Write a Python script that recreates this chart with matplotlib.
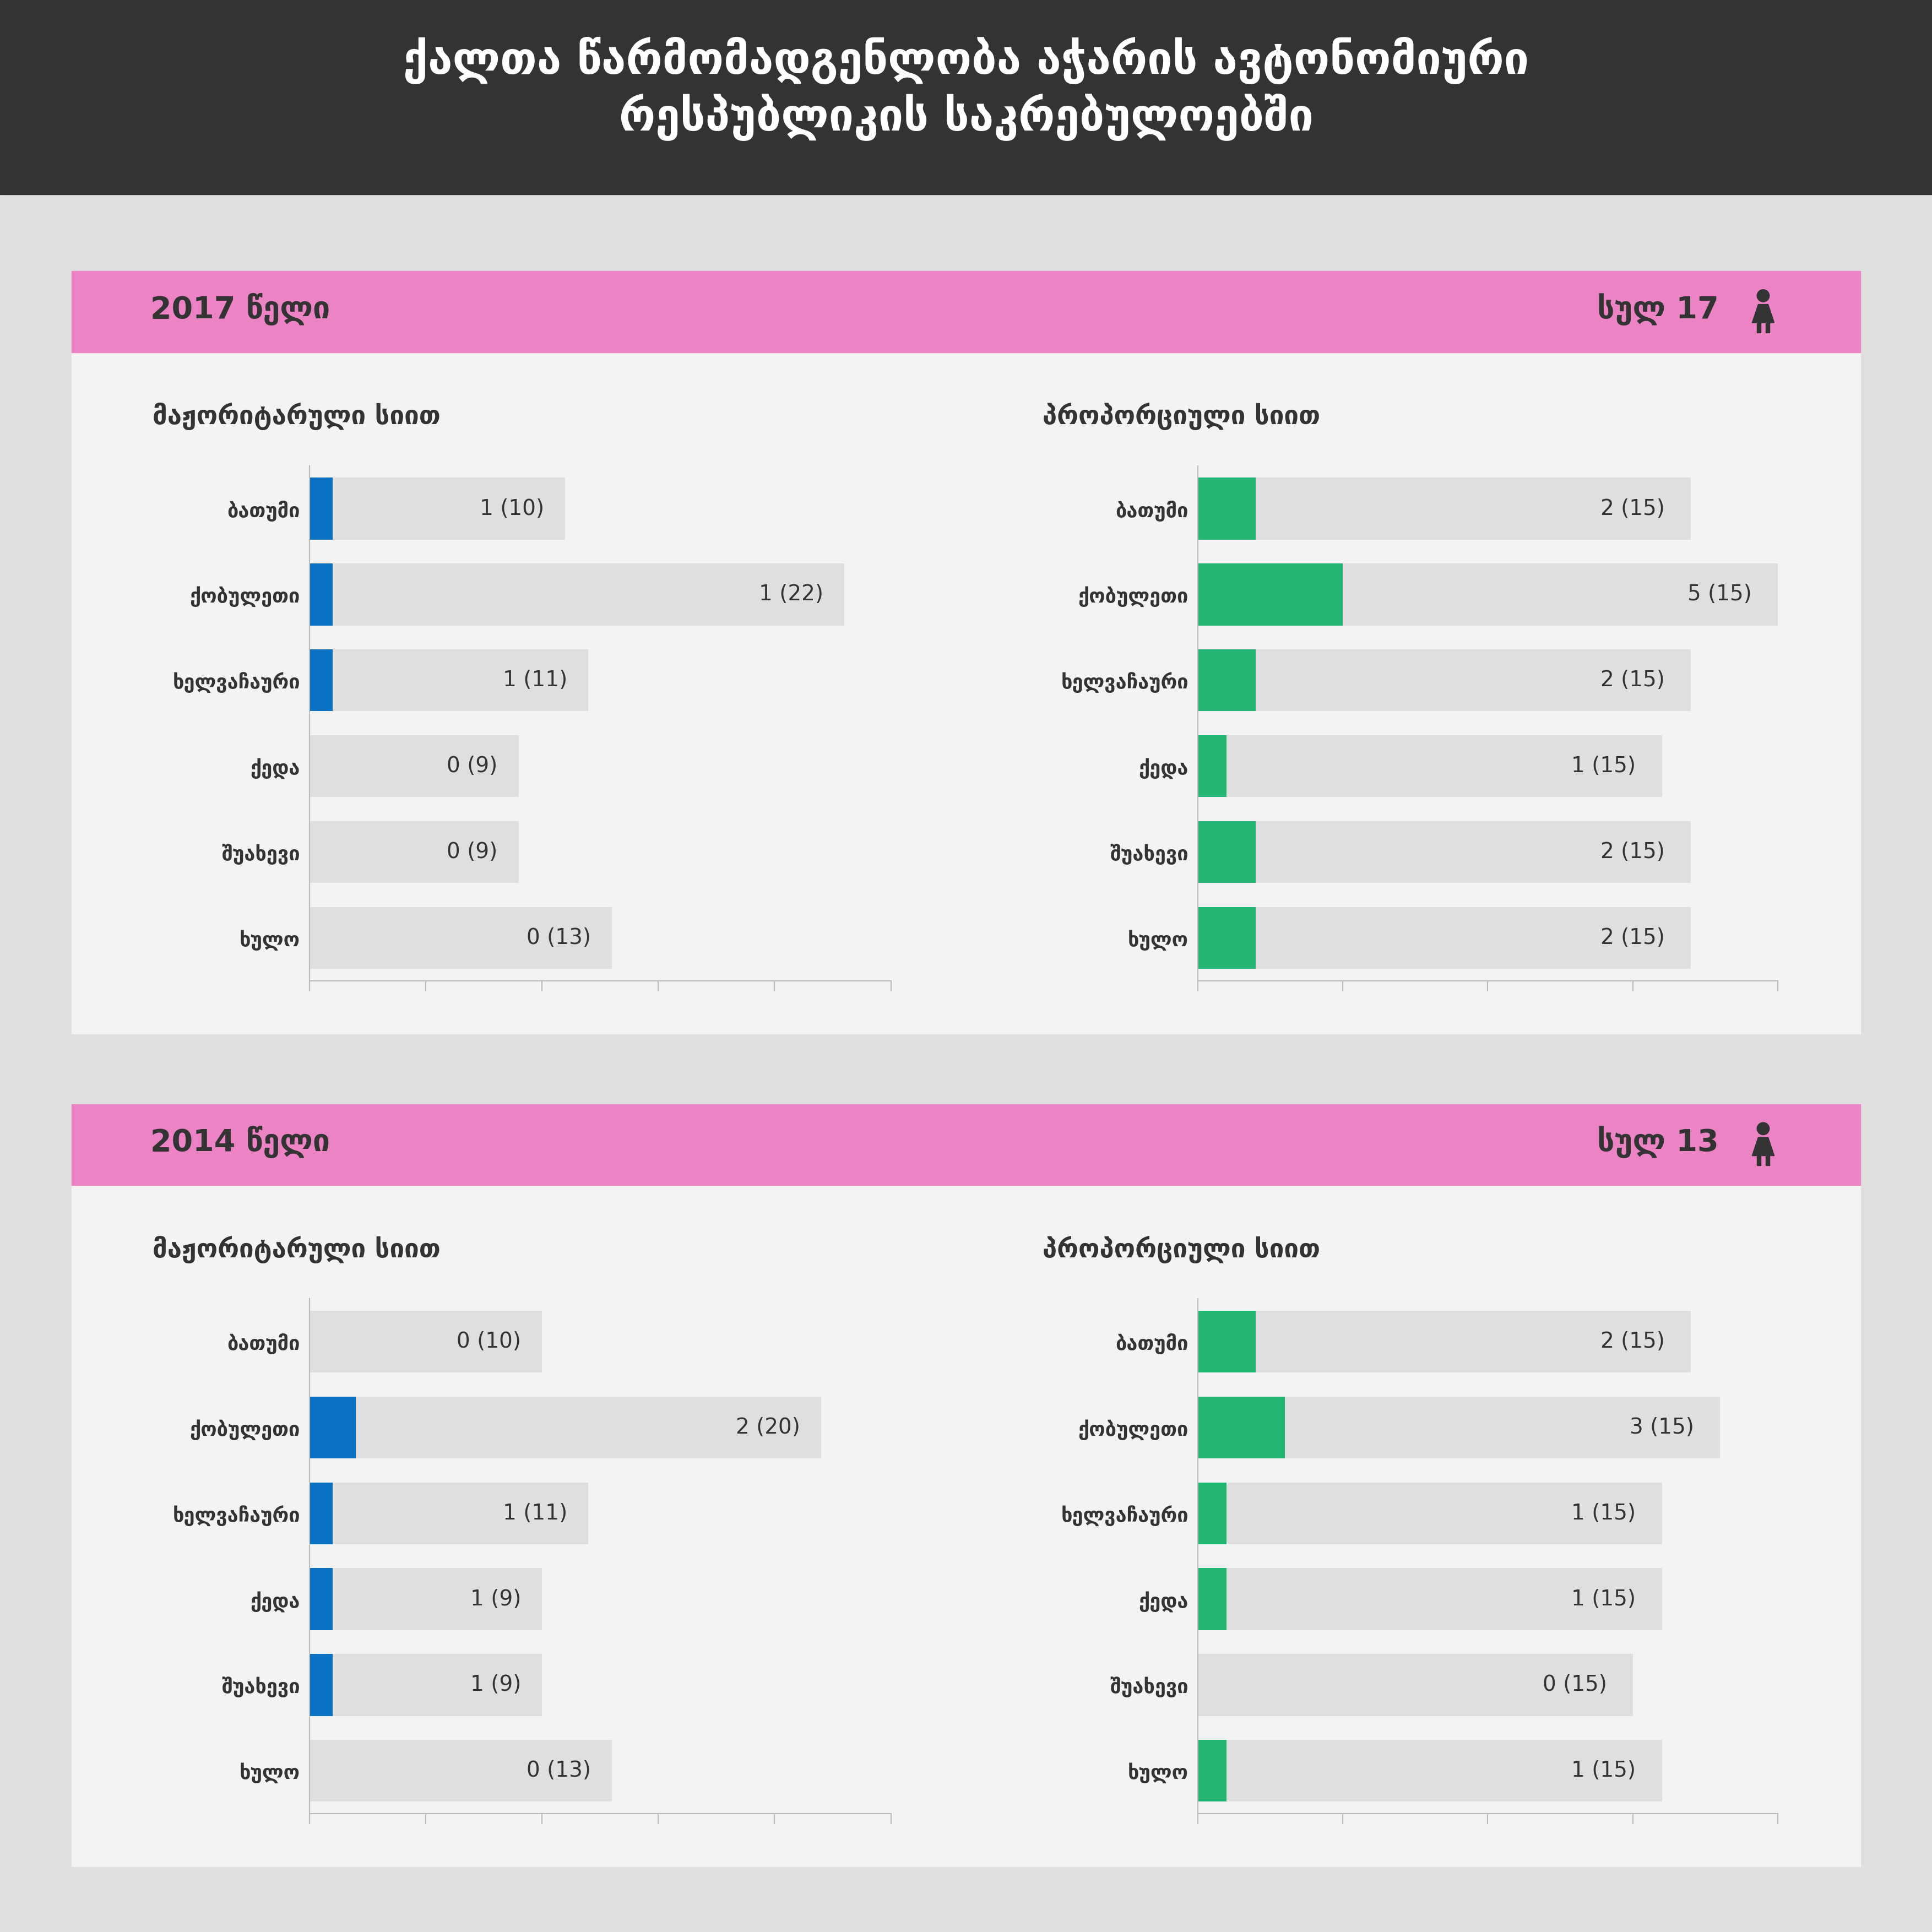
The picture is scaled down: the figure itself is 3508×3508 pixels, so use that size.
import matplotlib.pyplot as plt
from matplotlib.patches import Rectangle, Circle, Polygon

plt.rcParams['font.family'] = ['DejaVu Sans']

title = "ქალთა წარმომადგენლობა აჭარის ავტონომიური\nრესპუბლიკის საკრებულოებში"
districts = ["ბათუმი", "ქობულეთი", "ხელვაჩაური", "ქედა", "შუახევი", "ხულო"]

maj_women_2017 = [1, 1, 1, 0, 0, 0]
maj_total_2017 = [10, 22, 11, 9, 9, 13]
prop_women_2017 = [2, 5, 2, 1, 2, 2]
prop_total_2017 = [15, 15, 15, 15, 15, 15]

maj_women_2014 = [0, 2, 1, 1, 1, 0]
maj_total_2014 = [10, 20, 11, 9, 9, 13]
prop_women_2014 = [2, 3, 1, 1, 0, 1]
prop_total_2014 = [15, 15, 15, 15, 15, 15]

S = 1568.0
BG = "#dfdfdf"
PANEL = "#f3f3f3"
PINK = "#eb83c4"
DARK = "#333333"
BLUE = "#0a72c2"
GREEN = "#22b573"
GREY = "#dfdfdf"

fig = plt.figure(figsize=(35.08, 35.08), dpi=100)
fig.patch.set_facecolor(BG)


def rect(x0, y0, x1, y1, color, z=-2):
    fig.patches.append(Rectangle((x0 / S, 1 - y1 / S), (x1 - x0) / S, (y1 - y0) / S,
                                 transform=fig.transFigure, color=color, zorder=z))


def txt(x, y, s, **kw):
    fig.text(x / S, 1 - y / S, s, **kw)


def woman(x, y):
    # small female pictogram
    fig.patches.append(Circle((x / S, 1 - (y - 10) / S), 5 / S, transform=fig.transFigure,
                              color=DARK, zorder=-1))
    pts = [(x - 9, y + 12), (x + 9, y + 12), (x + 4, y - 3), (x - 4, y - 3)]
    fig.patches.append(Polygon([(a / S, 1 - b / S) for a, b in pts], transform=fig.transFigure,
                               color=DARK, zorder=-1))
    rect(x - 5, y + 12, x - 2, y + 20, DARK, -1)
    rect(x + 2, y + 12, x + 5, y + 20, DARK, -1)


rect(0, 0, S, 158, DARK)
txt(S / 2, 72, title, ha="center", va="center", color="white", fontsize=58,
    fontweight="bold", linespacing=1.25)


def bars(box, women, total, color, xmax):
    x0, y0, x1, y1 = box
    ax = fig.add_axes([x0 / S, 1 - y1 / S, (x1 - x0) / S, (y1 - y0) / S])
    ax.set_zorder(2)
    ax.set_facecolor(PANEL)
    pos = list(range(len(districts)))
    ax.barh(pos, women, height=0.72, color=color)
    ax.barh(pos, total, left=women, height=0.72, color=GREY)
    for p, w, t in zip(pos, women, total):
        ax.text(w + t - 0.9, p, f"{w} ({t})", ha="right", va="center", fontsize=28, color=DARK)
    ax.set_xlim(0, xmax)
    ax.set_ylim(len(districts) - 0.5, -0.5)
    ax.set_xticks(range(0, xmax + 1, 5))
    ax.set_xticklabels([])
    ax.set_yticks(pos)
    ax.set_yticklabels(districts, fontsize=26, fontweight="bold", color=DARK)
    ax.tick_params(axis="y", length=0, pad=12)
    ax.tick_params(axis="x", length=14, color="#bbbbbb", width=1.5)
    for s in ["top", "right"]:
        ax.spines[s].set_visible(False)
    for s in ["left", "bottom"]:
        ax.spines[s].set_color("#bbbbbb")
        ax.spines[s].set_linewidth(1.5)


sections = [
    (220, "2017 წელი", "სულ 17", maj_women_2017, maj_total_2017, prop_women_2017, prop_total_2017),
    (896, "2014 წელი", "სულ 13", maj_women_2014, maj_total_2014, prop_women_2014, prop_total_2014),
]
for top, year, tot, mw, mt, pw, pt in sections:
    rect(58, top, 1510, top + 619, PANEL)
    rect(58, top, 1510, top + 66, PINK)
    txt(122, top + 31, year, ha="left", va="center", fontsize=40, fontweight="bold", color=DARK)
    txt(1395, top + 31, tot, ha="right", va="center", fontsize=40, fontweight="bold", color=DARK)
    woman(1431, top + 30)
    txt(124, top + 118, "მაჟორიტარული სიით", ha="left", va="center", fontsize=34,
        fontweight="bold", color=DARK)
    txt(846, top + 118, "პროპორციული სიით", ha="left", va="center", fontsize=34,
        fontweight="bold", color=DARK)
    bars((251, top + 158, 723, top + 576), mw, mt, BLUE, 25)
    bars((972, top + 158, 1443, top + 576), pw, pt, GREEN, 20)

fig.savefig("out.png", dpi=100, facecolor=BG)
